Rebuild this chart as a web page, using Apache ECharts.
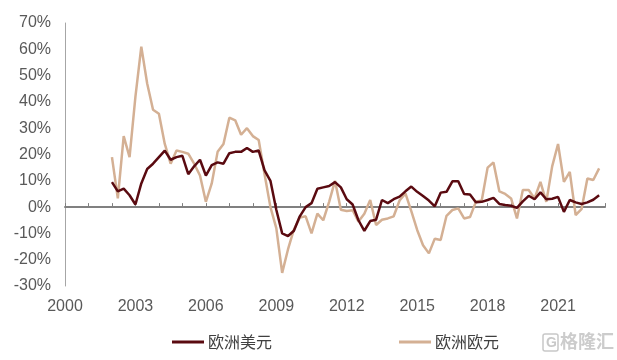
<!DOCTYPE html>
<html>
<head>
<meta charset="utf-8">
<script src="https://cdn.jsdelivr.net/npm/echarts@6/dist/echarts.min.js"></script>
<style>
html,body{margin:0;padding:0;background:#fff;}
#chart{width:617px;height:360px;}
</style>
</head>
<body>
<div id="chart"></div>
<script>
// Quarterly periods, 2002Q1 .. 2022Q4
const startYear = 2002;
const endYear = 2022;
const seriesNames = ['欧洲美元', '欧洲欧元'];
const yTicks = { min: -30, max: 70, interval: 10 };
const xTicks = { min: 2000, max: 2023, labelInterval: 3 };

// 欧洲美元 (YoY %, quarterly)
const usdValues = [
  9.5, 6, 7, 4.5, 1, 9, 14.5, 16.5, 19, 21.5,
  18, 19, 19.5, 12.5, 15.5, 18, 12, 16, 17, 16.5,
  20.5, 21, 21, 22.5, 21, 21.5, 14, 10, -1, -10,
  -11, -9, -3.5, 0, 1.5, 7, 7.5, 8, 9.5, 7.5,
  3, 1, -5, -9, -5.3, -4.8, 2.7, 1.5, 3, 4,
  6, 7.8, 5.8, 4.2, 2.5, 0.3, 5.5, 5.8, 9.8, 9.8,
  5, 4.8, 1.8, 2, 2.7, 3.5, 1.2, 0.8, 0.5, -0.3,
  2.2, 4.3, 3, 5.6, 3, 3.2, 3.9, -1.8, 2.7, 1.8,
  1.2, 1.8, 2.8, 4.5
];

// 欧洲欧元 (YoY %, quarterly)
const eurValues = [
  19, 3.3, 27, 19, 42, 61, 47, 37, 35.5, 24,
  16.5, 21.5, 21, 20.3, 16.5, 12, 2, 9, 21, 24,
  34, 33, 27.5, 30, 27, 25.5, 12.5, 0, -8, -25,
  -16, -8.5, -4, -3.5, -10, -2.5, -5, 2, 10, -1,
  -1.5, -1.2, -5.5, -2.5, 2.7, -6.8, -4.8, -4.3, -3.5, 2.5,
  5.2, -1.5, -8.7, -14.5, -17.6, -12, -12.5, -3.3, -1.1, -0.5,
  -4.3, -3.8, 2, 2.5, 15, 17, 6, 5, 3.3, -4.3,
  6.5, 6.5, 3.3, 9.6, 2, 15.5, 24, 9.6, 13.4, -3,
  -0.8, 10.9, 10.3, 14.7
];

const periods = [];
for (let y = startYear; y <= endYear; y++) {
  for (let q = 1; q <= 4; q++) periods.push({ year: y, q: q });
}
const xPos = periods.map(p => p.year + (p.q - 1) / 4);
const usdData = usdValues.map((v, i) => [xPos[i], v]);
const eurData = eurValues.map((v, i) => [xPos[i], v]);

const FONT = "'Liberation Sans', Arial, 'Noto Sans CJK SC', sans-serif";
const chart = echarts.init(document.getElementById('chart'), null, { renderer: 'canvas' });
chart.setOption({
  animation: false,
  backgroundColor: '#ffffff',
  textStyle: { fontFamily: FONT },
  grid: { left: 65, right: 12, top: 23, bottom: 74, containLabel: false },
  legend: {
    data: seriesNames,
    left: 167,
    top: 329,
    icon: 'rect',
    itemWidth: 32,
    itemHeight: 3,
    itemGap: 127,
    textStyle: { fontSize: 16, color: '#404040', fontFamily: "'Noto Sans CJK SC', sans-serif", padding: [0, 0, 0, -1] }
  },
  xAxis: [
    {
      type: 'value', min: xTicks.min, max: xTicks.max, interval: xTicks.labelInterval,
      position: 'bottom',
      axisLine: { show: false, onZero: false },
      axisTick: { show: false },
      splitLine: { show: false },
      axisLabel: { color: '#595959', fontSize: 16, margin: 13, formatter: v => String(v), showMaxLabel: false }
    },
    {
      type: 'value', min: xTicks.min, max: xTicks.max, interval: 1,
      position: 'bottom',
      axisLine: { show: true, onZero: true, lineStyle: { color: '#808080', width: 2 } },
      axisTick: { show: true, inside: true, length: 4, lineStyle: { color: '#808080', width: 1 } },
      splitLine: { show: false },
      axisLabel: { show: false }
    }
  ],
  yAxis: {
    type: 'value', min: yTicks.min, max: yTicks.max, interval: yTicks.interval,
    axisLine: { show: true, lineStyle: { color: '#a6a6a6', width: 1 } },
    axisTick: { show: false },
    splitLine: { show: false },
    axisLabel: { color: '#595959', fontSize: 16, margin: 14, formatter: '{value}%' }
  },
  series: [
    {
      name: seriesNames[0], type: 'line', xAxisIndex: 0, data: usdData,
      showSymbol: false, symbol: 'none', z: 3,
      lineStyle: { color: '#5a0a10', width: 2.5 }, itemStyle: { color: '#5a0a10' }
    },
    {
      name: seriesNames[1], type: 'line', xAxisIndex: 0, data: eurData,
      showSymbol: false, symbol: 'none', z: 2,
      lineStyle: { color: '#d4b094', width: 2.5 }, itemStyle: { color: '#d4b094' }
    }
  ],
  graphic: [
    {
      type: 'rect', shape: { x: 543, y: 334, width: 15, height: 17, r: 2 },
      style: { fill: 'none', stroke: '#c8c8c8', lineWidth: 1.5 }
    },
    {
      type: 'text', x: 546, y: 336,
      style: { text: 'G', fill: '#c8c8c8', font: "bold 14px 'Liberation Sans', sans-serif" }
    },
    {
      type: 'text', x: 560, y: 332,
      style: { text: '格隆汇', fill: '#cccccc', font: "bold 18px 'Noto Sans CJK SC', sans-serif" }
    }
  ]
});
</script>
</body>
</html>
